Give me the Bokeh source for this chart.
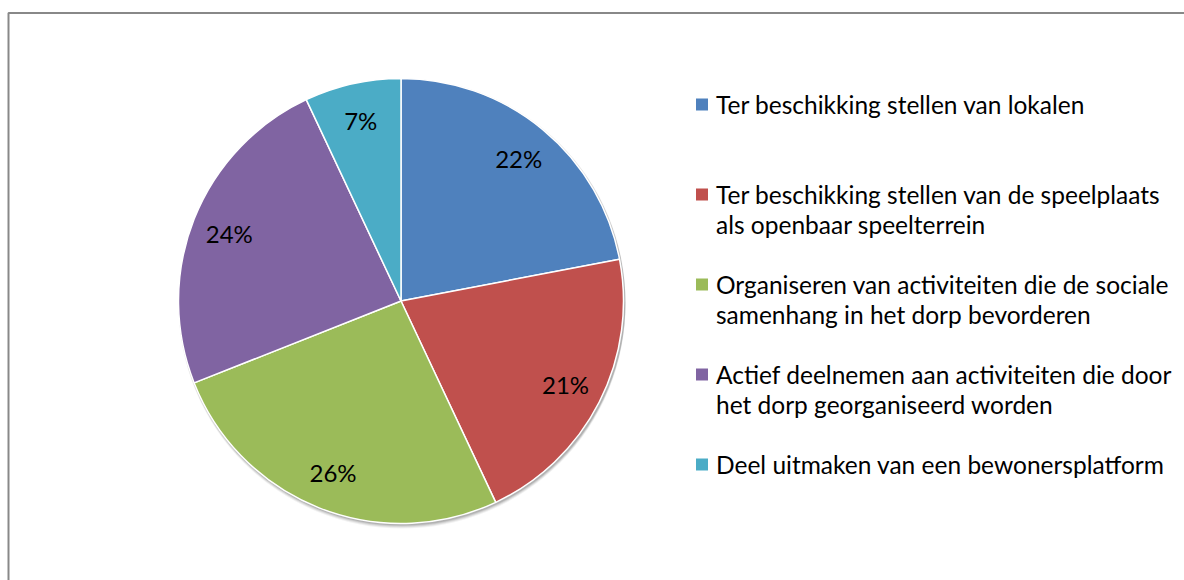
import numpy as np
from bokeh.plotting import figure
from bokeh.models import Range1d
from bokeh.core.properties import value
from bokeh.embed import file_html
from bokeh.resources import INLINE

# ---- data ----
categories = [
    "Ter beschikking stellen van lokalen",
    "Ter beschikking stellen van de speelplaats\nals openbaar speelterrein",
    "Organiseren van activiteiten die de sociale\nsamenhang in het dorp bevorderen",
    "Actief deelnemen aan activiteiten die door\nhet dorp georganiseerd worden",
    "Deel uitmaken van een bewonersplatform",
]
values = [22, 21, 26, 24, 7]
pct_labels = ["22%", "21%", "26%", "24%", "7%"]
colors = ["#4F81BD", "#C0504D", "#9BBB59", "#8064A2", "#4BACC6"]

W, H = 1184, 580
FONT = "Lato"
FS = "24.5px"

p = figure(width=W, height=H, output_backend="svg", toolbar_location=None,
           x_range=Range1d(0, W), y_range=Range1d(0, H), min_border=0,
           background_fill_color="white", border_fill_color="white")
p.axis.visible = False
p.grid.visible = False
p.outline_line_color = None

# chart border (top and left visible; the rest runs off the window)
p.line([8, 8, W + 10], [-10, 567.5, 567.5], line_color="#888888", line_width=2)

# pie geometry
cx, cy, r = 400.5, 279.5, 222.5
vals = np.array(values, dtype=float)
frac = vals / vals.sum()
cum = np.concatenate([[0], np.cumsum(frac)])
start = np.pi / 2 - 2 * np.pi * cum[:-1]
end = np.pi / 2 - 2 * np.pi * cum[1:]
mid = (start + end) / 2

# soft shadow
for k, a in [(4, 0.05), (3, 0.07), (2, 0.09), (1, 0.12)]:
    p.circle(x=[cx + 1], y=[cy - k], radius=r + 1, fill_color="#000000",
             fill_alpha=a, line_color=None)

p.wedge(x=cx, y=cy, radius=r, start_angle=start, end_angle=end,
        direction="clock", fill_color=colors, line_color="white", line_width=1.5)

lr = 0.83 * r
p.text(x=cx + lr * np.cos(mid), y=cy + lr * np.sin(mid), text=pct_labels,
       text_align="center", text_baseline="middle", text_color="#000000",
       text_font=value(FONT), text_font_size="24px")

# legend
lx, ly0, step = 701.5, 476, 90
for i, (lab, col) in enumerate(zip(categories, colors)):
    y = ly0 - i * step
    p.scatter(x=[lx], y=[y], marker="square", size=12, fill_color=col, line_color=None)
    for j, line in enumerate(lab.split("\n")):
        p.text(x=[lx + 14], y=[y - 30 * j], text=[line], text_align="left",
               text_baseline="middle", text_color="#000000",
               text_font=value(FONT), text_font_size=FS)

open("out.html", "w").write(file_html(p, INLINE))
